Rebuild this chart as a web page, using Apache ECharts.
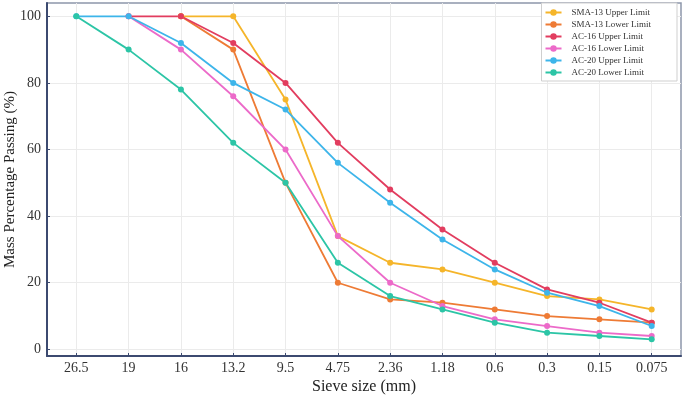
<!DOCTYPE html>
<html><head><meta charset="utf-8">
<script src="https://cdn.jsdelivr.net/npm/echarts@6/dist/echarts.min.js"></script>
<style>html,body{margin:0;padding:0;background:#fff}#c{width:685px;height:399px}</style>
</head><body><div id="c"></div>
<script>
var sieveLabels = ['26.5','19','16','13.2','9.5','4.75','2.36','1.18','0.6','0.3','0.15','0.075'];
var yTicks = [0,20,40,60,80,100];
var seriesNames = ['SMA-13 Upper Limit','SMA-13 Lower Limit','AC-16 Upper Limit','AC-16 Lower Limit','AC-20 Upper Limit','AC-20 Lower Limit'];
var sma13Upper = [null,null,100,100,75,34,26,24,20,16,15,12];
var sma13Lower = [null,null,100,90,50,20,15,14,12,10,9,8];
var ac16Upper  = [null,100,100,92,80,62,48,36,26,18,14,8];
var ac16Lower  = [null,100,90,76,60,34,20,13,9,7,5,4];
var ac20Upper  = [100,100,92,80,72,56,44,33,24,17,13,7];
var ac20Lower  = [100,90,78,62,50,26,16,12,8,5,4,3];
var colors = ['#F5B52A','#EE7B35','#E23D5F','#EC6AC9','#3DB5EA','#2CC5A6'];
var allData = [sma13Upper,sma13Lower,ac16Upper,ac16Lower,ac20Upper,ac20Lower];

function toPts(arr){var out=[];for(var i=0;i<arr.length;i++){if(arr[i]!==null)out.push([i,arr[i]]);}return out;}
var xIdx = sieveLabels.map(function(_,i){return i;});
var font = '"Liberation Serif","DejaVu Serif",serif';

var chart = echarts.init(document.getElementById('c'), null, {renderer:'canvas'});
chart.setOption({
  animation:false,
  backgroundColor:'#fff',
  grid:{left:47,right:4,top:3,bottom:43,containLabel:false,outerBoundsMode:'none',show:true,borderColor:'#8d96ab',borderWidth:1.5,backgroundColor:'transparent'},
  legend:{
    orient:'vertical', right:8, top:3,
    backgroundColor:'#fff', borderColor:'#cfcfcf', borderWidth:1,
    padding:[5,26,4,3], itemGap:3, itemWidth:16, itemHeight:8,
    textStyle:{fontFamily:font,fontSize:9,color:'#333',padding:[0,0,0,5]},
    data:seriesNames
  },
  xAxis:{
    type:'value', min:-0.56, max:11.56,
    name:'Sieve size (mm)', nameLocation:'middle', nameGap:23, nameMoveOverlap:false,
    nameTextStyle:{fontFamily:font,fontSize:16,color:'#222',verticalAlign:'top'},
    axisLine:{show:true,onZero:false,lineStyle:{color:'#3c4a70',width:2}},
    axisTick:{show:true,inside:true,length:3,customValues:xIdx,lineStyle:{color:'#3c4a70'}},
    axisLabel:{customValues:xIdx,margin:5,fontFamily:font,fontSize:14,color:'#333',
      formatter:function(v){return sieveLabels[Math.round(v)];}},
    splitLine:{show:true,lineStyle:{color:'#ebebeb',width:1}}
  },
  yAxis:{
    type:'value', min:-2, max:104,
    name:'Mass Percentage Passing (%)', nameLocation:'middle', nameGap:29, nameMoveOverlap:false,
    nameTextStyle:{fontFamily:font,fontSize:15,color:'#222'},
    axisLine:{show:true,onZero:false,lineStyle:{color:'#3c4a70',width:2}},
    axisTick:{show:true,inside:true,length:3,customValues:yTicks,lineStyle:{color:'#3c4a70'}},
    axisLabel:{customValues:yTicks,margin:6,fontFamily:font,fontSize:14,color:'#333'},
    splitLine:{show:true,lineStyle:{color:'#ebebeb',width:1}}
  },
  series: seriesNames.map(function(n,i){
    return {name:n,type:'line',data:toPts(allData[i]),symbol:'circle',symbolSize:6,
      itemStyle:{color:colors[i]},lineStyle:{color:colors[i],width:1.8}};
  })
});
</script></body></html>
